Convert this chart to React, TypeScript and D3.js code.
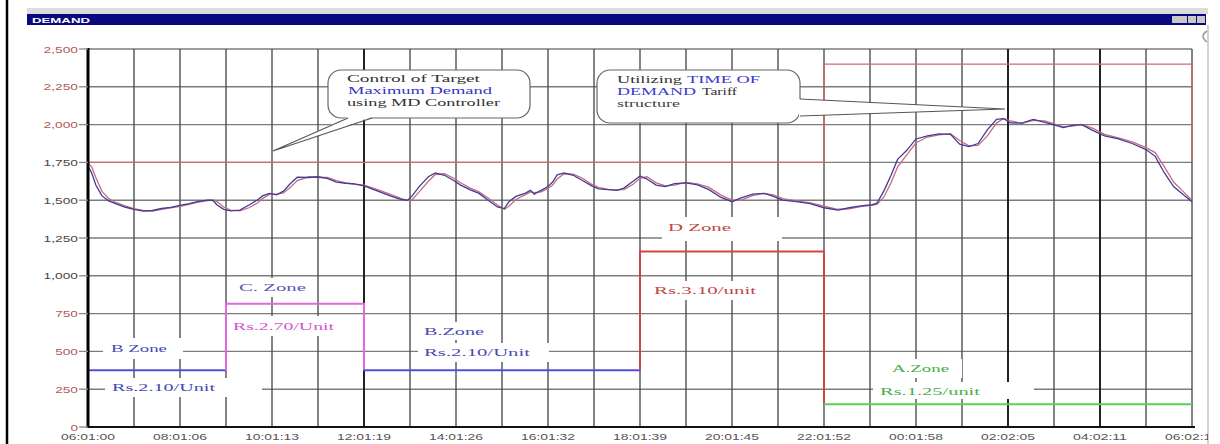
import React from 'react';
import * as d3 from 'd3';

const W = 1220;
const H = 444;

const xTickHours = [0, 2, 4, 6, 8, 10, 12, 14, 16, 18, 20, 22, 24];
const xTickLabels = ['06:01:00', '08:01:06', '10:01:13', '12:01:19', '14:01:26', '16:01:32', '18:01:39', '20:01:45', '22:01:52', '00:01:58', '02:02:05', '04:02:11', '06:02:18'];
const yTicks = [0, 250, 500, 750, 1000, 1250, 1500, 1750, 2000, 2250, 2500];
const yTickLabels = ['0', '250', '500', '750', '1,000', '1,250', '1,500', '1,750', '2,000', '2,250', '2,500'];

// hours elapsed since 06:01:00
const hours = [0.00, 0.08, 0.17, 0.30, 0.45, 0.60, 0.80, 1.00, 1.20, 1.40, 1.60, 1.80, 2.00, 2.20, 2.40, 2.60, 2.72, 2.80, 2.95, 3.10, 3.30, 3.50, 3.70, 3.80, 3.95, 4.10, 4.25, 4.40, 4.55, 4.80, 5.00, 5.20, 5.40, 5.60, 5.80, 6.00, 6.20, 6.40, 6.60, 6.80, 6.95, 7.05, 7.20, 7.40, 7.55, 7.75, 7.95, 8.10, 8.30, 8.50, 8.70, 8.90, 9.05, 9.15, 9.30, 9.50, 9.62, 9.70, 9.85, 10.00, 10.10, 10.20, 10.35, 10.55, 10.75, 10.95, 11.10, 11.30, 11.50, 11.65, 11.85, 12.00, 12.15, 12.35, 12.55, 12.75, 13.00, 13.25, 13.50, 13.75, 14.00, 14.20, 14.45, 14.70, 14.90, 15.10, 15.40, 15.70, 16.00, 16.30, 16.55, 16.80, 17.05, 17.15, 17.30, 17.45, 17.60, 17.80, 18.00, 18.25, 18.50, 18.75, 18.95, 19.15, 19.35, 19.55, 19.75, 19.90, 20.05, 20.30, 20.55, 20.80, 21.00, 21.20, 21.40, 21.60, 21.85, 22.10, 22.40, 22.70, 23.00, 23.20, 23.40, 23.60, 23.80, 24.00];

const demandA = [1725, 1680, 1600, 1530, 1495, 1478, 1455, 1440, 1428, 1432, 1445, 1452, 1466, 1478, 1492, 1500, 1498, 1470, 1440, 1430, 1435, 1468, 1505, 1530, 1545, 1535, 1560, 1610, 1652, 1650, 1655, 1645, 1620, 1612, 1608, 1595, 1572, 1548, 1525, 1505, 1500, 1530, 1590, 1655, 1680, 1665, 1630, 1600, 1570, 1545, 1500, 1455, 1445, 1490, 1525, 1545, 1565, 1540, 1565, 1590, 1620, 1668, 1680, 1665, 1630, 1595, 1575, 1570, 1565, 1580, 1625, 1660, 1640, 1600, 1590, 1610, 1615, 1602, 1570, 1520, 1490, 1515, 1540, 1545, 1525, 1500, 1490, 1478, 1450, 1435, 1450, 1462, 1470, 1480, 1560, 1660, 1770, 1830, 1905, 1925, 1938, 1935, 1870, 1855, 1875, 1965, 2035, 2040, 2012, 2010, 2035, 2015, 1998, 1980, 1995, 2000, 1960, 1925, 1905, 1875, 1835, 1790, 1680, 1590, 1540, 1490];

const demandB = [1745, 1720, 1650, 1560, 1510, 1485, 1462, 1445, 1432, 1428, 1440, 1450, 1460, 1472, 1488, 1498, 1502, 1492, 1455, 1435, 1430, 1450, 1485, 1512, 1540, 1540, 1548, 1585, 1630, 1655, 1650, 1650, 1630, 1615, 1605, 1600, 1580, 1558, 1535, 1512, 1498, 1505, 1555, 1625, 1670, 1675, 1645, 1615, 1582, 1555, 1515, 1468, 1440, 1460, 1505, 1535, 1555, 1550, 1555, 1578, 1600, 1640, 1675, 1672, 1645, 1605, 1585, 1572, 1568, 1570, 1605, 1645, 1655, 1615, 1595, 1600, 1618, 1608, 1585, 1535, 1500, 1500, 1530, 1545, 1535, 1510, 1495, 1482, 1460, 1440, 1442, 1458, 1468, 1472, 1520, 1610, 1720, 1800, 1880, 1918, 1932, 1940, 1895, 1860, 1862, 1925, 2010, 2040, 2025, 2008, 2028, 2025, 2005, 1985, 1990, 2002, 1975, 1935, 1912, 1885, 1848, 1815, 1720, 1620, 1560, 1500];

const targetMD = 1750;
const todLimit = 2400;
const todStartHour = 16;

const zoneStart = [0, 3, 6, 12, 16];
const zoneEnd = [3, 6, 12, 16, 24];
const zoneLevel = [375, 815, 375, 1160, 150];
const zoneNames = ['B Zone', 'C. Zone', 'B.Zone', 'D Zone', 'A.Zone'];
const zoneRates = ['Rs.2.10/Unit', 'Rs.2.70/Unit', 'Rs.2.10/Unit', 'Rs.3.10/unit', 'Rs.1.25/unit'];

const callout1 = ['Control of Target', 'Maximum Demand', 'using MD Controller'];
const callout2a = ['Utilizing', 'TIME OF'];
const callout2b = ['DEMAND', 'Tariff'];
const callout2c = 'structure';

export default function App() {
  const x = d3.scaleLinear().domain([0, 24]).range([88, 1192]);
  const y = d3.scaleLinear().domain([0, 2500]).range([427, 49]);

  const line = d3.line<number>().x((_, i) => x(hours[i])).y((d) => y(d)).curve(d3.curveLinear);

  const zoneColors = ['#5050d8', '#e068e0', '#5050d8', '#d04444', '#58d058'];
  const zoneTextColors = ['#4848b4', '#5858b8', '#4a4ab4', '#c04848', '#48b048'];
  const rateTextColors = ['#4848b4', '#d058d0', '#4a4ab4', '#c04848', '#48b048'];

  const zonePath = (i: number) => {
    const prev = i > 0 ? zoneLevel[i - 1] : null;
    const next = i < zoneLevel.length - 1 ? zoneLevel[i + 1] : null;
    let p = '';
    if (prev !== null && prev < zoneLevel[i]) {
      p += `M${x(zoneStart[i])},${y(prev)}V${y(zoneLevel[i])}`;
    } else {
      p += `M${x(zoneStart[i])},${y(zoneLevel[i])}`;
    }
    p += `H${x(zoneEnd[i])}`;
    if (next !== null && next < zoneLevel[i]) p += `V${y(next)}`;
    return p;
  };

  // annotation layout (left x, centre y, text width, background rect)
  const nameLayout = [
    { x: 111, y: 348, w: 56, bg: [103, 338, 80, 21] },
    { x: 239, y: 287, w: 67, bg: [232, 278, 82, 19] },
    { x: 424, y: 331, w: 60, bg: [418, 322, 74, 18] },
    { x: 668, y: 227, w: 63, bg: [662, 217, 120, 24] },
    { x: 892, y: 368, w: 57, bg: [885, 359, 77, 19] },
  ];
  const rateLayout = [
    { x: 112, y: 387, w: 103, bg: [105, 378, 157, 19] },
    { x: 233, y: 326, w: 101, bg: [228, 316, 112, 20] },
    { x: 424, y: 352, w: 106, bg: [418, 343, 131, 19] },
    { x: 654, y: 290, w: 102, bg: [648, 281, 127, 19] },
    { x: 880, y: 391, w: 100, bg: [873, 382, 161, 17] },
  ];

  const serif = "'Liberation Serif', 'DejaVu Serif', serif";
  const sans = "'Liberation Sans', Arial, sans-serif";

  const yLabelWidth = (s: string) => s.replace(/,/g, '').length * 7.6 + (s.includes(',') ? 4 : 0);

  return (
    <svg width={W} height={H} style={{ position: 'absolute', left: 0, top: 0, background: '#fff' }}>
      <defs>
        <clipPath id="win">
          <rect x={0} y={0} width={1208} height={H} />
        </clipPath>
      </defs>
      <rect x={0} y={0} width={W} height={H} fill="#fff" />

      {/* window chrome */}
      <line x1={7} y1={0} x2={7} y2={H} stroke="#000" strokeWidth={2.5} />
      <rect x={27} y={8} width={1181} height={6} fill="#dcdcdc" />
      <rect x={27} y={14} width={1179} height={11} fill="#0a0a80" />
      <text x={32} y={22.5} fill="#fff" fontSize={7.5} fontWeight="bold" fontFamily={sans} textLength={58} lengthAdjust="spacingAndGlyphs">DEMAND</text>
      <rect x={1172} y={16} width={15} height={7} fill="#c8c8c8" />
      <rect x={1188} y={16} width={8} height={7} fill="#c8c8c8" />
      <rect x={1197} y={16} width={8} height={7} fill="#c8c8c8" />
      <line x1={1208} y1={25} x2={1208} y2={H} stroke="#d4d4d4" strokeWidth={2} />
      <path d="M1207,31 Q1199,36 1207,42" fill="none" stroke="#999" strokeWidth={1.5} />

      {/* grid */}
      {yTicks.map((v) => (
        <line key={'h' + v} x1={x(0)} x2={x(24)} y1={y(v)} y2={y(v)} stroke="#7c7c7c" strokeWidth={1.4} />
      ))}
      {d3.range(1, 25).map((h) => (
        <line key={'v' + h} x1={x(h)} x2={x(h)} y1={y(2500)} y2={y(0)}
          stroke={h === 6 || h === 20 || h === 22 ? '#222' : '#505050'} strokeWidth={h === 6 || h === 20 || h === 22 ? 2 : 1.4} />
      ))}

      {/* label backgrounds */}
      {nameLayout.map((l, i) => (
        <rect key={'nb' + i} x={l.bg[0]} y={l.bg[1]} width={l.bg[2]} height={l.bg[3]} fill="#fff" />
      ))}
      {rateLayout.map((l, i) => (
        <rect key={'rb' + i} x={l.bg[0]} y={l.bg[1]} width={l.bg[2]} height={l.bg[3]} fill="#fff" />
      ))}

      {/* target MD / TOD limit */}
      <path d={`M${x(0)},${y(targetMD)}H${x(todStartHour)}V${y(todLimit)}H${x(24)}V${y(targetMD)}`} fill="none" stroke="#d06a6a" strokeWidth={1.3} />

      {/* zone steps */}
      {zoneLevel.map((_, i) => (
        <path key={'z' + i} d={zonePath(i)} fill="none" stroke={zoneColors[i]} strokeWidth={2} />
      ))}

      {/* demand curves */}
      <path d={line(demandB) || ''} fill="none" stroke="#c86a86" strokeWidth={1.3} />
      <path d={line(demandA) || ''} fill="none" stroke="#3e3e94" strokeWidth={1.3} />

      {/* zone labels */}
      {zoneNames.map((t, i) => (
        <text key={'zn' + i} x={nameLayout[i].x} y={nameLayout[i].y + 4} fill={zoneTextColors[i]} fontSize={11} fontFamily={serif}
          textLength={nameLayout[i].w} lengthAdjust="spacingAndGlyphs">{t}</text>
      ))}
      {zoneRates.map((t, i) => (
        <text key={'zr' + i} x={rateLayout[i].x} y={rateLayout[i].y + 4} fill={rateTextColors[i]} fontSize={11} fontFamily={serif}
          textLength={rateLayout[i].w} lengthAdjust="spacingAndGlyphs">{t}</text>
      ))}

      {/* axes */}
      <line x1={x(0)} x2={x(24) + 3} y1={y(0)} y2={y(0)} stroke="#111" strokeWidth={2.2} />
      <line x1={x(0)} x2={x(0)} y1={y(2500) - 1} y2={y(0) + 1} stroke="#000" strokeWidth={3} />
      {yTicks.map((v, i) => (
        <g key={'yt' + v}>
          <line x1={x(0) - 9} x2={x(0)} y1={y(v)} y2={y(v)} stroke="#888" strokeWidth={1.3} />
          <text x={x(0) - 10} y={y(v) + 3.5} textAnchor="end" fontSize={9} fontFamily={sans}
            fill={v >= 1000 && v <= 1750 ? '#4a4444' : '#b05a5a'}
            textLength={yLabelWidth(yTickLabels[i])} lengthAdjust="spacingAndGlyphs">{yTickLabels[i]}</text>
        </g>
      ))}
      <g clipPath="url(#win)">
        {xTickHours.map((h, i) => (
          <text key={'xt' + h} x={x(h)} y={440} textAnchor="middle" fontSize={9} fontFamily={sans} fill="#555"
            textLength={54} lengthAdjust="spacingAndGlyphs">{xTickLabels[i]}</text>
        ))}
      </g>

      {/* callout 1 */}
      <rect x={328} y={70} width={202} height={48} rx={13} ry={13} fill="#fff" stroke="#666" strokeWidth={1.2} />
      <polygon points="348,117 372,117 273,151" fill="#fff" />
      <path d="M348,118 L273,151 L372,118" fill="none" stroke="#555" strokeWidth={1.1} />
      <text x={347} y={82} fontSize={11} fontFamily={serif} fill="#333" textLength={133} lengthAdjust="spacingAndGlyphs">{callout1[0]}</text>
      <text x={348} y={94} fontSize={11} fontFamily={serif} fill="#3535c8" textLength={144} lengthAdjust="spacingAndGlyphs">{callout1[1]}</text>
      <text x={347} y={106} fontSize={11} fontFamily={serif} fill="#333" textLength={153} lengthAdjust="spacingAndGlyphs">{callout1[2]}</text>

      {/* callout 2 */}
      <rect x={597} y={70} width={203} height={53} rx={13} ry={13} fill="#fff" stroke="#666" strokeWidth={1.2} />
      <polygon points="799,99 799,116 1005,109" fill="#fff" />
      <path d="M800,99 L1005,109 L800,116" fill="none" stroke="#555" strokeWidth={1.1} />
      <text x={617} y={83} fontSize={11} fontFamily={serif} fill="#333" textLength={65} lengthAdjust="spacingAndGlyphs">{callout2a[0]}</text>
      <text x={687} y={83} fontSize={11} fontFamily={serif} fill="#3a3ad0" textLength={73} lengthAdjust="spacingAndGlyphs">{callout2a[1]}</text>
      <text x={617} y={95} fontSize={11} fontFamily={serif} fill="#3a3ad0" textLength={79} lengthAdjust="spacingAndGlyphs">{callout2b[0]}</text>
      <text x={702} y={95} fontSize={11} fontFamily={serif} fill="#333" textLength={35} lengthAdjust="spacingAndGlyphs">{callout2b[1]}</text>
      <text x={617} y={107} fontSize={11} fontFamily={serif} fill="#444" textLength={63} lengthAdjust="spacingAndGlyphs">{callout2c}</text>
    </svg>
  );
}
